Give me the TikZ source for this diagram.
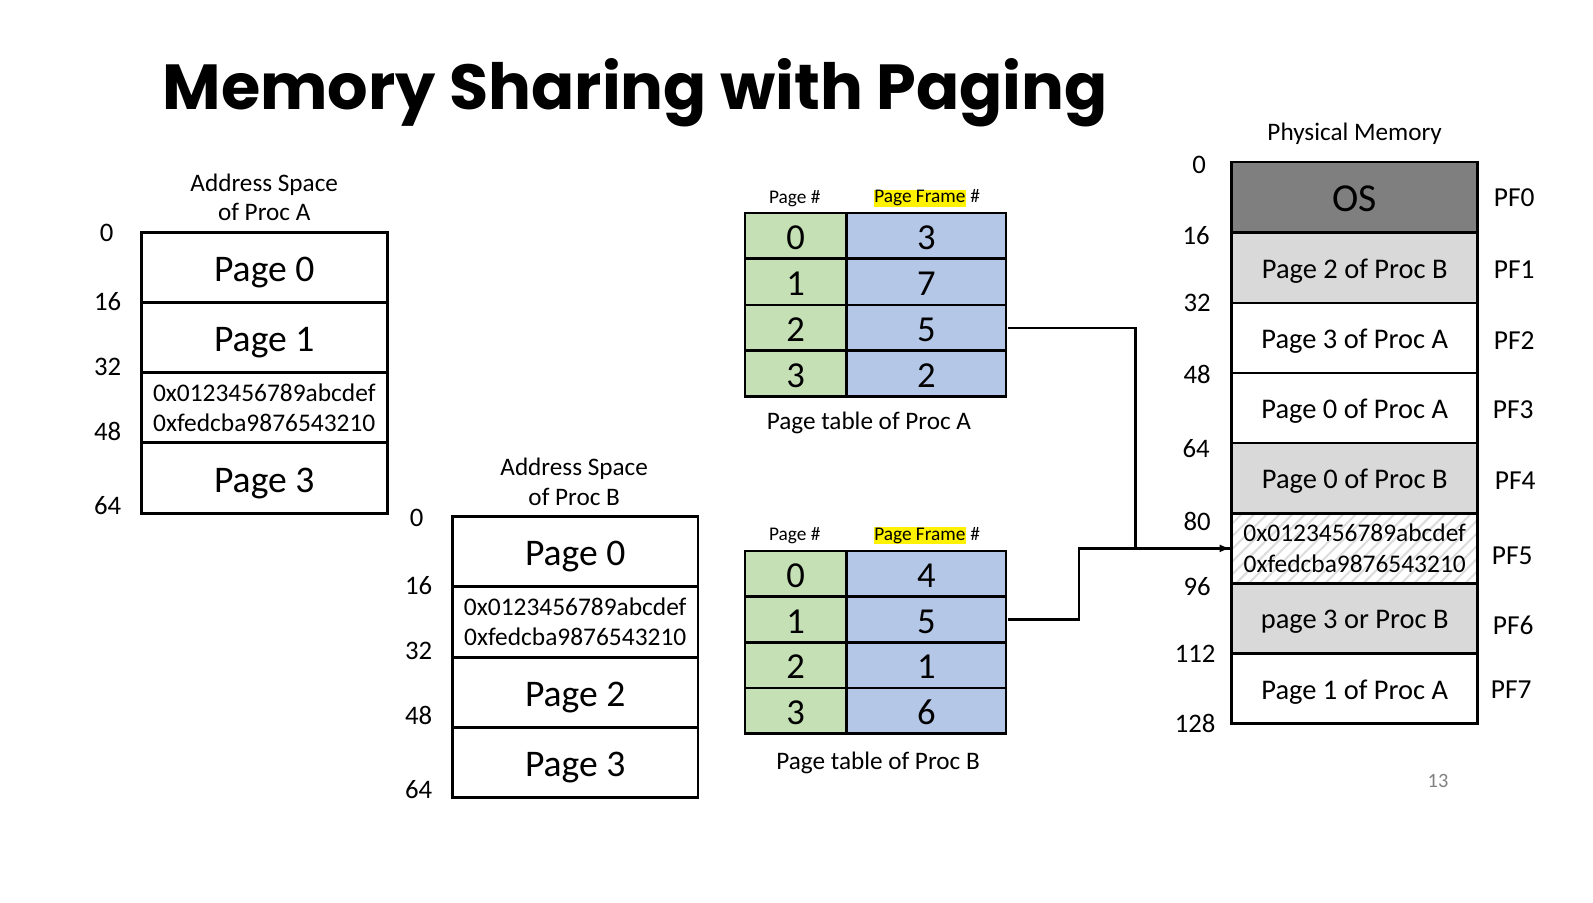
\documentclass[tikz,border=0pt]{standalone}
\usepackage{fontspec}
\setmainfont{Carlito}
\newfontfamily\titlefont{Poppins}[UprightFont=* Bold]
\usetikzlibrary{patterns.meta,arrows.meta}
\definecolor{ptgreen}{HTML}{C5E0B4}
\definecolor{ptblue}{HTML}{B4C7E7}
\definecolor{osgray}{HTML}{7F7F7F}
\definecolor{lgray}{HTML}{D9D9D9}
\definecolor{hatchgray}{HTML}{DCDCDC}
\newcommand{\fsz}[1]{\fontsize{#1}{#1}\selectfont}
\newcommand{\fszb}[2]{\fontsize{#1}{#2}\selectfont}
\begin{document}
\begin{tikzpicture}[x=1pt,y=-1pt,scale=1.0163,transform shape,
  cell/.style={draw=black,line width=2.6pt,inner sep=0pt,align=center},
  asrow/.style={cell,text height=27.4pt,text depth=0pt,minimum width=242pt,minimum height=69pt,font=\fsz{37}},
  hexrow/.style={cell,minimum width=242pt,minimum height=69pt,font=\fszb{25}{30},align=center},
  pmrow/.style={cell,text height=20.7pt,text depth=0pt,minimum width=242pt,minimum height=69pt,font=\fsz{28}},
  pnum/.style={cell,text height=27.2pt,text depth=0pt,fill=ptgreen,minimum width=100pt,minimum height=45pt,font=\fsz{36}},
  pfnum/.style={cell,text height=27.2pt,text depth=0pt,fill=ptblue,minimum width=157pt,minimum height=45pt,font=\fsz{36}},
  lbl/.style={inner sep=0pt,font=\fsz{26.3}},
  pflbl/.style={inner sep=0pt,font=\fsz{27}},
  caplbl/.style={inner sep=0pt,font=\fszb{24.8}{29},align=center},
  hdr/.style={inner sep=0pt,font=\fsz{19}},
  conn/.style={line width=2.4pt},
]
\useasboundingbox (0,0) rectangle (1567.5,888.5);
% title
\node[inner sep=0pt,anchor=base west] (title) at (160,108) {\resizebox{930pt}{!}{\titlefont\fsz{66}Memory Sharing with Paging}};

% ---------- Address space of Proc A
\node[caplbl] (asAt) at (260,194) {Address Space\\of Proc A};
\node[asrow] (a0) at (260,263.5) {Page 0};
\node[asrow] (a1) at (260,332) {Page 1};
\node[hexrow] (a2) at (260,401) {0x0123456789abcdef\\0xfedcba9876543210};
\node[asrow] (a3) at (260,470.5) {Page 3};
\node[lbl] (la0) at (105,229) {0};
\node[lbl] (la1) at (106,297) {16};
\node[lbl] (la2) at (106,361) {32};
\node[lbl] (la3) at (106,425) {48};
\node[lbl] (la4) at (106,497) {64};

% ---------- Address space of Proc B
\node[caplbl] (asBt) at (565,474) {Address Space\\of Proc B};
\node[asrow] (b0) at (566,542.5) {Page 0};
\node[hexrow] (b1) at (566,612) {0x0123456789abcdef\\0xfedcba9876543210};
\node[asrow] (b2) at (566,681.5) {Page 2};
\node[asrow] (b3) at (566,750.5) {Page 3};
\node[lbl] (lb0) at (410,510) {0};
\node[lbl] (lb1) at (412,576) {16};
\node[lbl] (lb2) at (412,640) {32};
\node[lbl] (lb3) at (412,704) {48};
\node[lbl] (lb4) at (412,777) {64};

% ---------- Page table A
\node[hdr] (hA1) at (782,195) {Page \#};
\node[hdr] (hA2) at (912,195) {{\setlength\fboxsep{0.6pt}\colorbox{yellow}{Page Frame}} \#};
\node[pnum] (pa0) at (783,232) {0};
\node[pfnum] (fa0) at (911.5,232) {3};
\node[pnum] (pa1) at (783,277.5) {1};
\node[pfnum] (fa1) at (911.5,277.5) {7};
\node[pnum] (pa2) at (783,322.5) {2};
\node[pfnum] (fa2) at (911.5,322.5) {5};
\node[pnum] (pa3) at (783,367.5) {3};
\node[pfnum] (fa3) at (911.5,367.5) {2};
\node[caplbl] (ptAc) at (855,416) {Page table of Proc A};

% ---------- Page table B
\node[hdr] (hB1) at (782,527) {Page \#};
\node[hdr] (hB2) at (912,527) {{\setlength\fboxsep{0.6pt}\colorbox{yellow}{Page Frame}} \#};
\node[pnum] (pb0) at (783,564.5) {0};
\node[pfnum] (fb0) at (911.5,564.5) {4};
\node[pnum] (pb1) at (783,609.5) {1};
\node[pfnum] (fb1) at (911.5,609.5) {5};
\node[pnum] (pb2) at (783,654.5) {2};
\node[pfnum] (fb2) at (911.5,654.5) {1};
\node[pnum] (pb3) at (783,699.5) {3};
\node[pfnum] (fb3) at (911.5,699.5) {6};
\node[caplbl] (ptBc) at (864,751) {Page table of Proc B};

% ---------- Physical memory
\node[caplbl] (pmt) at (1333,132) {Physical Memory};
\node[pmrow,fill=osgray,font=\fsz{39},text height=28.9pt] (pf0) at (1333,194) {OS};
\node[pmrow,fill=lgray] (pf1) at (1333,263.5) {Page 2 of Proc B};
\node[pmrow] (pf2) at (1333,332.5) {Page 3 of Proc A};
\node[pmrow] (pf3) at (1333,401.5) {Page 0 of Proc A};
\node[pmrow,fill=lgray] (pf4) at (1333,470.5) {Page 0 of Proc B};
\fill[white] (1212,505) rectangle (1454,574);
\fill[pattern={Lines[angle=45,distance=9pt,line width=2pt]},pattern color=hatchgray] (1212,505) rectangle (1454,574);
\node[hexrow] (pf5) at (1333,539.5) {0x0123456789abcdef\\0xfedcba9876543210};
\node[pmrow,fill=lgray] (pf6) at (1333,608.5) {page 3 or Proc B};
\node[pmrow] (pf7) at (1333,677.5) {Page 1 of Proc A};

\node[lbl] (lp0) at (1180,162) {0};
\node[lbl] (lp1) at (1177,232) {16};
\node[lbl] (lp2) at (1178,298) {32};
\node[lbl] (lp3) at (1178,368) {48};
\node[lbl] (lp4) at (1177,441) {64};
\node[lbl] (lp5) at (1178,513) {80};
\node[lbl] (lp6) at (1178,577) {96};
\node[lbl] (lp7) at (1176,643) {112};
\node[lbl] (lp8) at (1176,712) {128};

\node[pflbl] (r0) at (1490,195) {PF0};
\node[pflbl] (r1) at (1490,265) {PF1};
\node[pflbl] (r2) at (1490,335) {PF2};
\node[pflbl] (r3) at (1489,403) {PF3};
\node[pflbl] (r4) at (1491,473) {PF4};
\node[pflbl] (r5) at (1488,547) {PF5};
\node[pflbl] (r6) at (1489,615) {PF6};
\node[pflbl] (r7) at (1487,679) {PF7};

\node[inner sep=0pt,font=\fsz{20},text=gray] (pg) at (1415,768) {13};

% ---------- connectors
\draw[conn] (fa2.east) -- ++(126,0) |- (pf5.west);
\draw[conn,-{Latex[length=11pt,width=8pt]}] (fb1.east) -- ++(70,0) |- (pf5.west);
\end{tikzpicture}
\end{document}
